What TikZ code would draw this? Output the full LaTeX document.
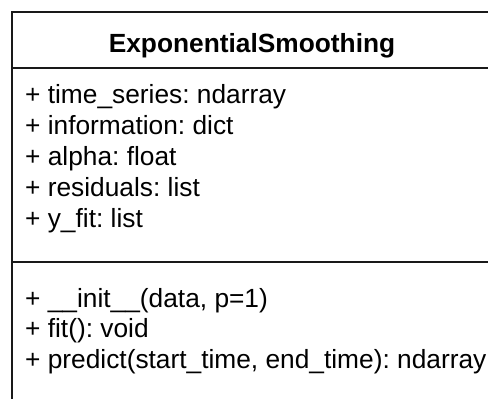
\documentclass[tikz,border=0pt]{standalone}
\usepackage{fontspec}
\setmainfont{Liberation Sans}
\usetikzlibrary{positioning}

\tikzset{
  umlline/.style={line width=1.8pt, draw=black!90},
  clsname/.style={font=\fontsize{26.3}{30}\selectfont\bfseries, inner sep=0pt},
  member/.style={font=\fontsize{26.3}{30}\selectfont\frenchspacing, inner sep=0pt, text height=20pt, text depth=10.5pt},
}

\begin{document}
\begin{tikzpicture}[x=1pt,y=-1pt]
  \useasboundingbox (0,0) rectangle (488,399);
  \clip (0,0) rectangle (488,399);

        % class frame
        \coordinate (box_nw) at (12,12);
        \coordinate (box_se) at (500,420);
        \draw[umlline] (box_nw) rectangle (box_se);
        \coordinate (sep_name_w) at (12,68);
        \coordinate (sep_name_e) at (500,68);
        \coordinate (sep_attr_w) at (12,261.7);
        \coordinate (sep_attr_e) at (500,261.7);
        \draw[umlline] (sep_name_w) -- (sep_name_e);
        \draw[umlline] (sep_attr_w) -- (sep_attr_e);

        % name
        \node[clsname, anchor=base] (cls_name) at (252,52) {ExponentialSmoothing};

        % attributes
        \node[member, anchor=base west] (attr_ts) at (25,103.5) {+ time\_series: ndarray};
        \node[member, below right=0pt and 0pt of attr_ts.south west] (attr_info) {+ information: dict};
        \node[member, below right=0pt and 0pt of attr_info.south west] (attr_alpha) {+ alpha: float};
        \node[member, below right=0pt and 0pt of attr_alpha.south west] (attr_res) {+ residuals: list};
        \node[member, below right=0pt and 0pt of attr_res.south west] (attr_yfit) {+ y\_fit: list};

        % operations
        \node[member, anchor=base west] (op_init) at (25,307) {+ \_\_init\_\_(data, p=1)};
        \node[member, below right=0pt and 0pt of op_init.south west] (op_fit) {+ fit(): void};
        \node[member, below right=0pt and 0pt of op_fit.south west] (op_predict) {+ predict(start\_time, end\_time): ndarray};

\end{tikzpicture}
\end{document}
